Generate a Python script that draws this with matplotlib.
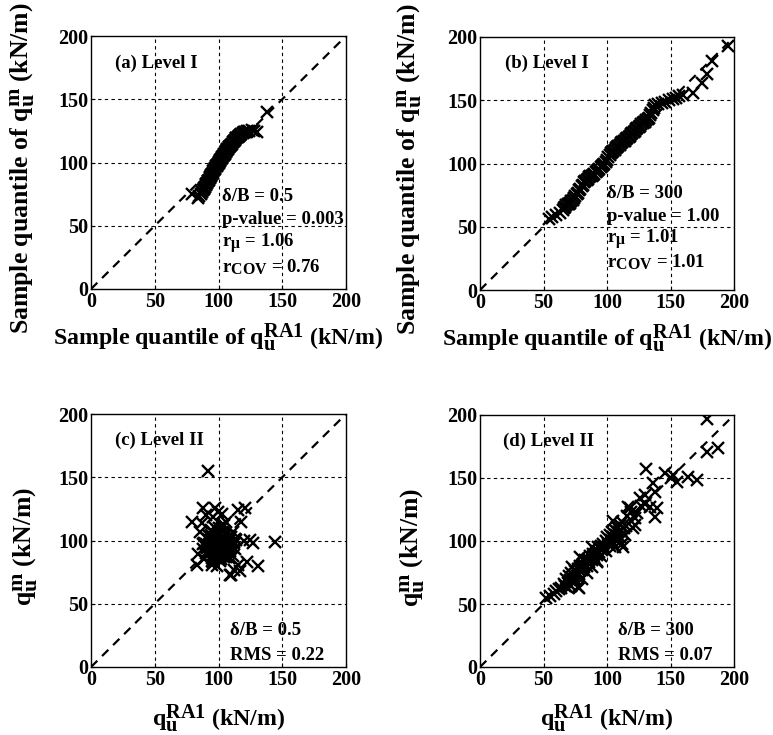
import matplotlib
matplotlib.use("Agg")
import matplotlib.pyplot as plt
import matplotlib._mathtext as _mt

# larger super/subscripts, like the reference
_mt.SHRINK_FACTOR = 0.85

plt.rcParams['font.family'] = ['Liberation Serif', 'DejaVu Serif']
plt.rcParams['font.weight'] = 'bold'
plt.rcParams['mathtext.fontset'] = 'custom'
plt.rcParams['mathtext.rm'] = 'Liberation Serif:bold'
plt.rcParams['mathtext.it'] = 'Liberation Serif:bold'
plt.rcParams['mathtext.bf'] = 'Liberation Serif:bold'

ticks = [0, 50, 100, 150, 200]

# (a) Level I, delta/B = 0.5 : QQ plot
a_x = [79, 84, 85, 86, 87, 88, 88.5, 89, 89.5, 90, 90.5, 91, 91.5, 92, 92.5, 93, 93.5, 94, 94.5, 95,
       95.5, 96, 96.5, 97, 97.5, 98, 98.5, 99, 99.5, 100, 100.5, 101, 101.5, 102, 102.5, 103, 103.5,
       104, 104.5, 105, 105.5, 106, 106.5, 107, 107.5, 108, 108.5, 109, 110, 110.5, 111, 112, 113,
       113.5, 114, 115, 116, 117, 118, 119, 120, 121, 122, 124, 126, 128, 130, 138]
a_y = [75, 72, 73.5, 75, 76.5, 78, 79, 80, 81, 82, 83, 84, 85, 85.5, 86.5, 87.5, 88.5, 89.5, 90.5, 91,
       92, 93, 94, 95, 96, 97, 97.5, 98, 99, 100, 100.5, 101, 102, 103, 103.5, 104, 105,
       106, 106.5, 107, 108, 109, 110, 110.5, 111, 112, 112.5, 113, 114, 115, 116, 117, 118,
       119, 119.5, 120, 121, 122, 122.5, 123, 124, 124.5, 125, 125, 125.5, 125, 124, 140]

# (b) Level I, delta/B = 300 : QQ plot
b_x = [54, 57, 60, 63, 65, 66, 67, 68, 69, 70, 71, 72, 73, 74, 75, 76, 77, 78, 79, 80, 81, 82, 83,
       84, 85, 86, 87, 88, 89, 90, 91, 92, 93, 94, 95, 96, 97, 98, 99, 100, 101, 102, 103, 104, 105,
       106, 107, 108, 109, 110, 111, 112, 113, 114, 115, 116, 117, 118, 119, 120, 121, 122, 123, 124,
       125, 126, 127, 128, 129, 130, 131, 132, 133, 134, 135, 136, 137, 138, 140, 143, 146, 149, 152,
       154, 157, 160, 168, 175, 179, 183, 195]
b_y = [56, 57.5, 59, 61, 63, 65, 66, 67, 68, 68, 69, 70, 71, 73, 74, 76, 77, 79, 80, 82, 83, 85, 86,
       87, 88, 89, 90, 90.5, 91, 92, 93, 94, 95, 96, 97, 98, 99, 100, 101, 103, 105, 107, 108, 109, 110,
       111, 112, 113, 114, 115, 116, 117, 117.5, 118, 119, 120, 121, 122, 123, 124, 125, 126, 127, 128,
       129, 130, 131, 132, 132.5, 133, 134, 135, 136, 138, 140, 142, 144, 146, 147, 148, 149, 150, 151,
       152, 153, 154, 156, 164, 171, 181, 193]

# (c) Level II, delta/B = 0.5
c_x = [92, 144.3, 79, 88, 97.3, 99.9, 115.5, 120.8, 118, 86.8, 85.5, 124.7, 127.3, 82.9, 94.7, 109,
       115.5, 122, 131, 112, 114, 120, 96, 103, 106, 90, 110, 117, 88, 84, 108, 101,
       93, 94, 95, 96, 97, 98, 99, 100, 101, 102, 103, 104, 105, 106, 107, 108,
       94, 95, 96, 97, 98, 99, 100, 101, 102, 103, 104, 105, 106, 107,
       93, 95, 97, 99, 101, 103, 105, 107, 109, 91, 92, 94, 96, 98, 100, 102, 104, 106, 110, 112,
       98, 100, 102, 104, 96, 99, 103, 90, 89, 111,
       89, 91, 92, 110, 112, 113, 108, 106, 90, 93, 111, 109, 104, 97, 100, 95, 102, 107, 113, 88]
c_y = [155, 99, 115, 125.5, 125.5, 122.8, 124, 125.5, 115, 113.6, 107, 100.4, 97.8, 80.6, 80.6, 72.7,
       80.6, 83.2, 79.8, 76.7, 100.4, 100, 118.8, 121, 115, 120, 73, 76, 93, 89, 86, 84,
       92, 98, 88, 95, 101, 90, 97, 94, 99, 92, 96, 103, 91, 98, 94, 100,
       104, 86, 106, 89, 104, 108, 88, 106, 100, 110, 95, 89, 104, 92,
       96, 94, 91, 103, 93, 98, 96, 97, 92, 90, 101, 108, 99, 102, 110, 88, 100, 101, 103, 99,
       86, 92, 94, 87, 83, 80, 112, 97, 85, 107,
       98, 94, 104, 94, 97, 101, 90, 87, 90, 100, 88, 103, 112, 110, 106, 84, 85, 96, 93, 97]

# (d) Level II, delta/B = 300
d_x = [52, 55, 58, 60, 62, 64, 66, 67, 68, 69, 70, 71, 72, 72, 73, 74, 75, 75, 76, 77, 78, 78, 79,
       80, 80, 81, 82, 83, 84, 84, 85, 86, 87, 88, 88, 89, 90, 91, 92, 92, 93, 94, 95, 95, 96, 97,
       98, 99, 99, 100, 101, 102, 102, 103, 104, 104, 105, 106, 106, 107, 108, 108, 109, 110, 110,
       111, 112, 112, 113, 114, 115,
       178.5, 179, 187.7, 170.6, 164, 152, 155, 145.7, 131, 136.5, 137.8, 130, 126, 133.9, 139,
       137.8, 130, 122, 120.7, 116.8, 112.8, 107.6, 91.9, 88, 78.7, 77.4, 68.2, 72.2, 150, 119, 124,
       116, 118, 122, 127, 110, 105]
d_y = [55, 56, 58, 60, 62, 63, 66, 64, 70, 67, 72, 69, 75, 64, 73, 70, 76, 68, 72, 78, 74, 63, 80,
       77, 70, 82, 79, 85, 80, 75, 86, 83, 88, 85, 79, 90, 87, 92, 89, 84, 95, 91, 96, 88, 93, 98,
       95, 100, 92, 103, 98, 105, 96, 101, 107, 99, 103, 109, 95, 105, 111, 100, 107, 113, 103,
       109, 115, 98, 110, 105, 112,
       196.6, 170.9, 174, 148.4, 151, 152, 147, 153.7, 156.9, 145.8, 139, 136.5, 134, 127.2, 126,
       119.3, 129, 118, 110, 127.2, 95.5, 100.7, 83.6, 95.5, 87.6, 63.7, 63.7, 79.6, 150, 123, 122,
       120, 126, 113, 128, 108, 116]

fig = plt.figure(figsize=(7.73, 7.35), dpi=100)
W, H = 773.0, 735.0
TFS = 13.5
XL_FS = 17.2
YL_FS = 18.5


def make_ax(l, t, r, b):
    return fig.add_axes([l / W, 1 - b / H, (r - l) / W, (b - t) / H])


def style(ax, xs, ys):
    ax.set_xlim(0, 200)
    ax.set_ylim(0, 200)
    ax.set_xticks(ticks)
    ax.set_yticks(ticks)
    ax.tick_params(direction='in', length=3, labelsize=14.5, pad=2, width=0.8)
    for lab in ax.get_xticklabels() + ax.get_yticklabels():
        lab.set_fontweight('bold')
    for v in [50, 100, 150]:
        ax.axvline(v, color='black', lw=0.8, ls=(0, (3, 3)), zorder=1)
        ax.axhline(v, color='black', lw=0.8, ls=(0, (3, 3)), zorder=1)
    ax.plot([0, 200], [0, 200], color='black', lw=1.6, ls=(0, (4, 3)), zorder=2)
    ax.plot(xs, ys, ls='none', marker='x', ms=8, mew=1.7, color='black', zorder=3)
    for s in ax.spines.values():
        s.set_linewidth(1.0)


def annotate(ax, x, lines):
    for y, s in lines:
        ax.text(x, y, s, fontsize=TFS, fontweight='bold', va='center', ha='left', zorder=4)


def labels(ax, xl, yl, ylx, yly=0.476, xpad=7, xlx=0.5):
    ax.set_xlabel(xl, fontsize=XL_FS, fontweight='bold', labelpad=xpad)
    ax.set_ylabel(yl, fontsize=YL_FS, fontweight='bold')
    ax.yaxis.set_label_coords(ylx, yly)


XL_Q = r'Sample quantile of $\mathrm{q_u^{RA1}}$ (kN/m)'
YL_Q = r'Sample quantile of $\mathrm{q_u^{m}}$ (kN/m)'
XL = r'$\mathrm{q_u^{RA1}}$ (kN/m)'
YL = r'$\mathrm{q_u^{m}}$ (kN/m)'

axa = make_ax(91, 36, 346, 289)
style(axa, a_x, a_y)
annotate(axa, 18.8, [(178.4, '(a) Level I')])
annotate(axa, 102.7, [(73, 'δ/B = 0.5'), (55, 'p-value = 0.003'),
                      (35.6, r'$\mathrm{r_{μ}}$ = 1.06'), (17.6, r'$\mathrm{r_{COV}}$ = 0.76')])
labels(axa, XL_Q, YL_Q, -0.212)

axb = make_ax(480, 37, 734, 290)
style(axb, b_x, b_y)
annotate(axb, 19.7, [(179, '(b) Level I')])
annotate(axb, 99.8, [(76.4, 'δ/B = 300'), (58, 'p-value = 1.00'),
                     (39.5, r'$\mathrm{r_{μ}}$ = 1.01'), (22.4, r'$\mathrm{r_{COV}}$ = 1.01')])
labels(axb, XL_Q, YL_Q, -0.222)

axc = make_ax(91, 414, 346, 667)
style(axc, c_x, c_y)
annotate(axc, 18.8, [(179.5, '(c) Level II')])
annotate(axc, 109, [(29.2, 'δ/B = 0.5'), (9, 'RMS = 0.22')])
labels(axc, XL, YL, -0.2, xpad=9)

axd = make_ax(480, 415, 734, 667)
style(axd, d_x, d_y)
annotate(axd, 18.3, [(179, '(d) Level II')])
annotate(axd, 108.9, [(29.2, 'δ/B = 300'), (9, 'RMS = 0.07')])
labels(axd, XL, YL, -0.209, xpad=9)

fig.savefig('out.png', dpi=100)
